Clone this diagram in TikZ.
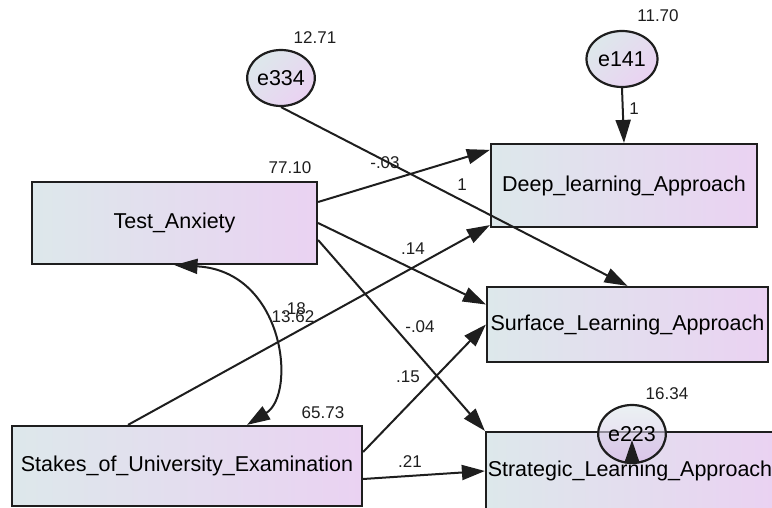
\documentclass[tikz,border=0pt]{standalone}
\usepackage{fontspec}
\setmainfont{Liberation Sans}
\usetikzlibrary{arrows.meta, positioning, shapes.geometric}

\definecolor{boxleft}{HTML}{DDE8EB}
\definecolor{boxright}{HTML}{EAD2F2}
\definecolor{errdark}{HTML}{D6B6E6}
\definecolor{inkgray}{HTML}{1E1E1E}

\begin{document}
\begin{tikzpicture}[x=0.5pt, y=-0.5pt,
                observed/.style={draw=inkgray, line width=1.1pt, rectangle, inner sep=0pt,
                                left color=boxleft, right color=boxright,
                                font=\fontsize{10.75}{13}\selectfont},
                error/.style={draw=inkgray, line width=1.1pt, ellipse, inner sep=0pt,
                             top color=boxleft, bottom color=boxright, shading angle=45,
                             font=\fontsize{10.75}{13}\selectfont},
                regpath/.style={line width=1pt, draw=inkgray,
                                -{Triangle[length=11.5pt, width=7.5pt]}},
                cov/.style={line width=1pt, draw=inkgray,
                            {Triangle[length=11.5pt, width=7.5pt]}-{Triangle[length=11.5pt, width=7.5pt]}},
                est/.style={font=\fontsize{8.5}{10}\selectfont, text=inkgray, inner sep=0pt}]

                \useasboundingbox (0,0) rectangle (772,508);

                % observed variables
                \node[observed, minimum width=142.5pt, minimum height=41pt] (anx) at (174.5,223) {Test\_Anxiety};
                \node[observed, minimum width=175pt, minimum height=40pt] (stakes) at (187,466) {Stakes\_of\_University\_Examination};
                \node[observed, minimum width=133pt, minimum height=41.5pt] (deep) at (624,185.5) {Deep\_learning\_Approach};
                \node[observed, minimum width=140.5pt, minimum height=37.5pt] (surface) at (627.5,324.5) {Surface\_Learning\_Approach};
                \node[observed, minimum width=144pt, minimum height=39pt] (strategic) at (630,471) {Strategic\_Learning\_Approach};

                % error terms
                \node[error, minimum width=32.5pt, minimum height=28pt] (e334) at (281,78) {e334};
                \node[error, minimum width=35.5pt, minimum height=28pt] (e141) at (622,59) {e141};
                \node[error, minimum width=33.5pt, minimum height=29pt, bottom color=errdark,
                      shading angle=0, fill opacity=0.6, text opacity=1] (e223) at (632,434) {e223};

                % regression paths
                \draw[regpath] ([yshift=10.5pt]anx.east) -- ([yshift=-3.5pt]deep.north west);
                \draw[regpath] (anx.east) -- ([yshift=10pt]surface.west);
                \draw[regpath] ([yshift=-8.5pt]anx.east) -- (strategic.north west);
                \draw[regpath] ([xshift=-29.5pt]stakes.north) -- ([yshift=1.5pt]deep.south west);
                \draw[regpath] ([yshift=7pt]stakes.east) -- (surface.west);
                \draw[regpath] ([yshift=-6.5pt]stakes.east) -- (strategic.west);
                \draw[regpath] (e334.south) -- (surface.north);
                \draw[regpath] (e141.south) -- (deep.north);
                \draw[regpath] (e223.south) -- ([yshift=-3pt]e223.center);

                % covariance
                \draw[cov] (anx.south) .. controls +(110,6) and +(50,-31) .. ([xshift=30pt]stakes.north);

                % estimates
                \node[est] (v334) at (315,38) {12.71};
                \node[est] (v141) at (658,16) {11.70};
                \node[est] (vanx) at (290,168) {77.10};
                \node[est] (vstakes) at (323,413) {65.73};
                \node[est] (v223) at (667,394) {16.34};
                \node[est] (wad) at (385,163) {-.03};
                \node[est] (w334) at (462,185) {1};
                \node[est] (w141) at (634,109) {1};
                \node[est] (was) at (413,249) {.14};
                \node[est] (wsd) at (294,309) {.18};
                \node[est] (cas) at (293,317) {13.62};
                \node[est] (wat) at (420,327) {-.04};
                \node[est] (wss) at (408,377) {.15};
                \node[est] (wst) at (410,462) {.21};
\end{tikzpicture}
\end{document}
